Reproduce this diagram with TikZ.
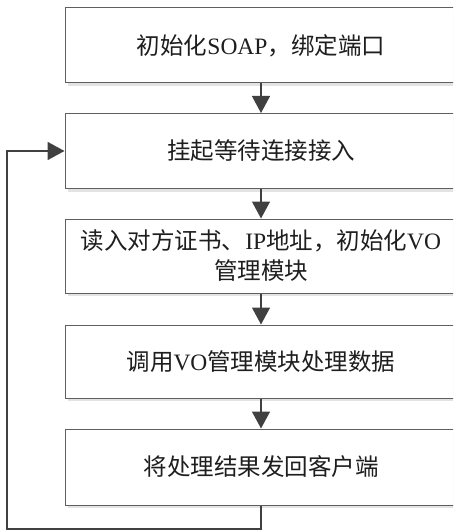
\documentclass[tikz,border=0pt]{standalone}
\usepackage{fontspec}
\setmainfont{Liberation Serif}
\newfontfamily\cjk{Noto Sans CJK SC}
\usetikzlibrary{arrows.meta,shadows}
\definecolor{boxc}{RGB}{95,95,95}
\definecolor{arrc}{RGB}{64,64,64}
\definecolor{txtc}{RGB}{30,30,30}
\begin{document}
\begin{tikzpicture}[x=1pt,y=-1pt,
  stepbox/.style={draw=boxc, line width=1pt, fill=white,
    minimum width=392pt, minimum height=75pt, inner sep=0pt, align=center,
    font=\fontsize{23.5}{30}\selectfont, text=txtc,
    drop shadow={shadow xshift=3pt, shadow yshift=-3pt, fill=gray!22, opacity=1}},
  flow/.style={draw=arrc, line width=1.4pt, -{Triangle[width=18pt,length=17pt]}}]
\path[use as bounding box] (0,0) rectangle (453,532);
\clip (0,0) rectangle (453,532);
\node[stepbox] (b1) at (261,45.5) {{\cjk 初始化}SOAP{\cjk ，绑定端口}};
\node[stepbox] (b2) at (261,151) {{\cjk 挂起等待连接接入}};
\node[stepbox, minimum height=74pt] (b3) at (261,256) {{\cjk 读入对方证书、}IP{\cjk 地址，初始化}VO\\{\cjk 管理模块}};
\node[stepbox, minimum height=73pt] (b4) at (261,361.5) {{\cjk 调用}VO{\cjk 管理模块处理数据}};
\node[stepbox, minimum height=76pt] (b5) at (261,467) {{\cjk 将处理结果发回客户端}};
\coordinate (c2) at (7,529);
\draw[flow] (b1) -- (b2);
\draw[flow] (b2) -- (b3);
\draw[flow] (b3) -- (b4);
\draw[flow] (b4) -- (b5);
\draw[flow, line width=1.8pt] (b5.south) |- (c2) |- (b2.west);
\end{tikzpicture}
\end{document}
